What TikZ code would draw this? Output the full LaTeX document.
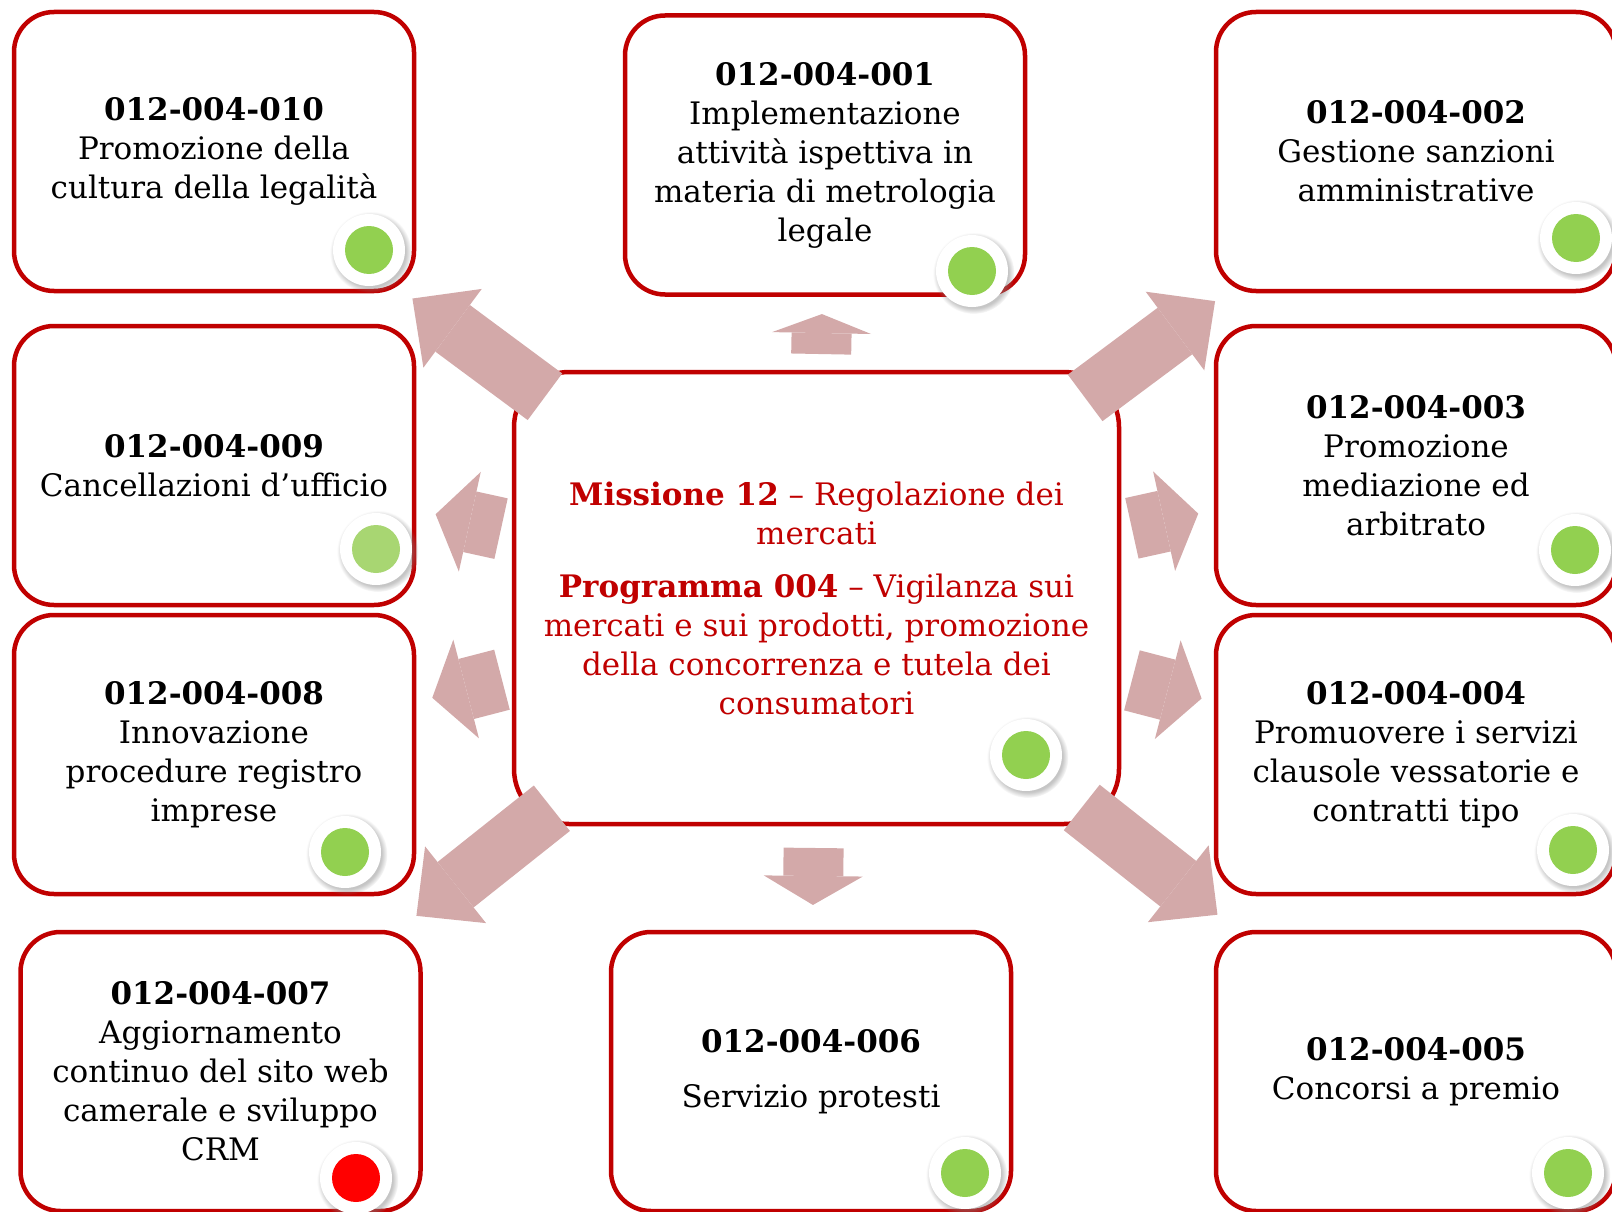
\documentclass[tikz,border=0pt]{standalone}
\usepackage{fontspec}
\setmainfont{DejaVu Serif}
\usetikzlibrary{arrows.meta,positioning,calc,shadows,fadings}

\definecolor{bordo}{RGB}{192,0,0}
\definecolor{rosa}{RGB}{211,169,169}
\definecolor{verde}{RGB}{146,208,80}
\definecolor{verdechiaro}{RGB}{168,214,114}
\definecolor{rosso}{RGB}{255,0,0}

\begin{document}
\begin{tikzpicture}[x=1pt, y=-1pt, boxstyle/.style={rectangle, rounded corners=40pt, draw=bordo, line width=4.5pt, fill=white, minimum width=400pt, minimum height=279pt, inner sep=0pt, align=center, font=\fontsize{31}{39}\selectfont}, ctrstyle/.style={boxstyle, rounded corners=55pt, minimum width=605pt, minimum height=452pt, text=bordo}, stato/.style={circle, fill=white, minimum size=72pt, inner sep=0pt, circular drop shadow={shadow xshift=1.5pt, shadow yshift=-2pt, shadow scale=1.13, opacity=0.45}, path picture={\fill[#1] (path picture bounding box.center) circle (24pt);}}, pil/.style={draw=rosa, line width=58pt, -{Triangle[length=50pt, width=98pt, line width=0pt]}}, pilcorta/.style={draw=rosa, line width=62pt, -{Triangle[length=35pt, width=102pt, line width=0pt]}}, pilsu/.style={draw=rosa, line width=60pt, -{Triangle[length=#1, width=99pt, line width=0pt]}}]
	\useasboundingbox (0,0) rectangle (1612,1212);
	\clip (0,0) rectangle (1612,1212);
	\node[ctrstyle] (ctr) at (816.5,598) {\textbf{Missione 12} – Regolazione dei\\ mercati\\[14pt] \textbf{Programma 004} – Vigilanza sui\\ mercati e sui prodotti, promozione\\ della concorrenza e tutela dei\\ consumatori};
	\node[boxstyle, above=73pt of ctr, xshift=8.5pt] (b001) {\textbf{012-004-001}\\ Implementazione\\ attività ispettiva in\\ materia di metrologia\\ legale};
	\node[boxstyle, below=103.5pt of ctr, xshift=-5.5pt] (b006) {\textbf{012-004-006}\\[16pt] Servizio protesti};
	\node[boxstyle, left=95.5pt of ctr, yshift=132.5pt] (b009) {\textbf{012-004-009}\\ Cancellazioni d’ufficio};
	\node[boxstyle, above=30.5pt of b009] (b010) {\textbf{012-004-010}\\ Promozione della\\ cultura della legalità};
	\node[boxstyle, below=5.5pt of b009] (b008) {\textbf{012-004-008}\\ Innovazione\\ procedure registro\\ imprese};
	\node[boxstyle, below=33.5pt of b008, xshift=6.5pt] (b007) {\textbf{012-004-007}\\ Aggiornamento\\ continuo del sito web\\ camerale e sviluppo\\ CRM};
	\node[boxstyle, right=92.5pt of ctr, yshift=132.5pt] (b003) {\textbf{012-004-003}\\ Promozione\\ mediazione ed\\ arbitrato};
	\node[boxstyle, above=30.5pt of b003] (b002) {\textbf{012-004-002}\\ Gestione sanzioni\\ amministrative};
	\node[boxstyle, below=5.5pt of b003] (b004) {\textbf{012-004-004}\\ Promuovere i servizi\\ clausole vessatorie e\\ contratti tipo};
	\node[boxstyle, below=33.5pt of b004] (b005) {\textbf{012-004-005}\\ Concorsi a premio};
	% stato degli obiettivi
	\node[stato=verde] (s010) at (369,250) {};
	\node[stato=verde] (s001) at (972,271) {};
	\node[stato=verde] (s002) at (1576,238) {};
	\node[stato=verdechiaro] (s009) at (376,549) {};
	\node[stato=verde] (s003) at (1575,550) {};
	\node[stato=verde] (s008) at (345,852) {};
	\node[stato=verde] (s004) at (1573,850) {};
	\node[stato=rosso] (s007) at (356,1178) {};
	\node[stato=verde] (s006) at (965,1173) {};
	\node[stato=verde] (s005) at (1568,1173) {};
	\node[stato=verde] (sctr) at (1026,755) {};
	% frecce
	\draw[pil] ($(ctr)!338pt!(b010)$) -- ($(ctr)!503pt!(b010)$);
	\draw[pil] ($(ctr)!335pt!(b002)$) -- ($(ctr)!497pt!(b002)$);
	\draw[pil] ($(ctr)!338pt!(b007)$) -- ($(ctr)!511pt!(b007)$);
	\draw[pil] ($(ctr)!338pt!(b005)$) -- ($(ctr)!511pt!(b005)$);
	\draw[pilcorta] ($(ctr)!323pt!(b009)$) -- ($(ctr)!390pt!(b009)$);
	\draw[pilcorta] ($(ctr)!325pt!(b008)$) -- ($(ctr)!397pt!(b008)$);
	\draw[pilcorta] ($(ctr)!323pt!(b003)$) -- ($(ctr)!391pt!(b003)$);
	\draw[pilcorta] ($(ctr)!326pt!(b004)$) -- ($(ctr)!398pt!(b004)$);
	\draw[pilsu=19pt] ($(ctr)!244pt!(b001)$) -- ($(ctr)!284pt!(b001)$);
	\draw[pilsu=29pt] ($(ctr)!250pt!(b006)$) -- ($(ctr)!307pt!(b006)$);
\end{tikzpicture}
\end{document}
